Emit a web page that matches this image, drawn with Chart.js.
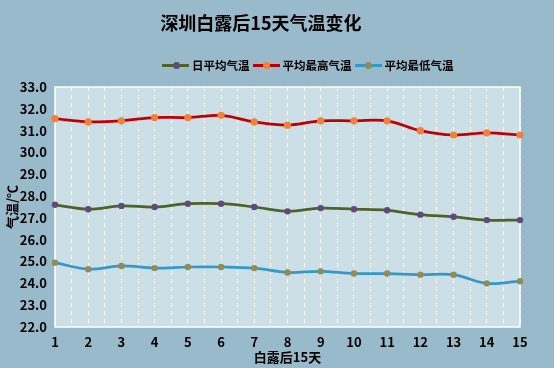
<!DOCTYPE html>
<html>
<head>
<meta charset="utf-8">
<script src="https://cdn.jsdelivr.net/npm/chart.js@4/dist/chart.umd.min.js"></script>
<style>
  body { margin: 0; background: #98bacb; }
  #wrap { position: relative; width: 554px; height: 368px; font-family: "Noto Sans CJK SC", sans-serif; color: #000; }
  #titulo { position: absolute; left: 0; top: 9px; width: 522px; text-align: center; font-size: 18px; font-weight: bold; line-height: 26px; }
  #legenda { position: absolute; left: 162px; top: 57px; display: flex; font-size: 11.5px; font-weight: bold; line-height: 16px; }
  .item { display: flex; align-items: center; margin-right: 3px; }
  .marca { position: relative; width: 27px; height: 10px; margin-right: 3px; }
  .marca .linha { position: absolute; left: 0; top: 3.5px; width: 27px; height: 3px; }
  .marca .ponto { position: absolute; left: 10.5px; top: 1.5px; width: 7px; height: 7px; border-radius: 50%; }
  canvas { position: absolute; left: 0; top: 0; }
</style>
</head>
<body>
<div id="wrap">
  <canvas id="grafico" width="554" height="368"></canvas>
  <div id="titulo">深圳白露后15天气温变化</div>
  <div id="legenda"></div>
</div>
<script>
/* DADOS */
const dias = [1, 2, 3, 4, 5, 6, 7, 8, 9, 10, 11, 12, 13, 14, 15];
const nomes = ["日平均气温", "平均最高气温", "平均最低气温"];
const mediaTemp = [27.6, 27.4, 27.55, 27.5, 27.65, 27.65, 27.5, 27.3, 27.45, 27.4, 27.35, 27.15, 27.05, 26.9, 26.9];
const maxTemp = [31.55, 31.4, 31.45, 31.6, 31.6, 31.7, 31.4, 31.25, 31.45, 31.45, 31.45, 31.0, 30.8, 30.9, 30.8];
const minTemp = [24.95, 24.65, 24.8, 24.7, 24.75, 24.75, 24.7, 24.5, 24.55, 24.45, 24.45, 24.4, 24.4, 24.0, 24.1];

/* CORES */
const corLinha = ["#4f6228", "#c00000", "#3399c9"];
const corPonto = ["#604a7b", "#f0803a", "#948a54"];
const raio = [3.2, 3.6, 3.2];

const series = [mediaTemp, maxTemp, minTemp];

/* LEGENDA HTML */
const legenda = document.getElementById("legenda");
nomes.forEach((n, i) => {
  legenda.innerHTML += `
    <div class="item">
      <span class="marca"><span class="linha" style="background:${corLinha[i]}"></span><span class="ponto" style="background:${corPonto[i]}"></span></span>
      <span>${n}</span>
    </div>`;
});

/* FUNDO + BORDA DA AREA */
const fundo = {
  id: "fundo",
  beforeDraw(chart) {
    const { ctx, chartArea: a } = chart;
    ctx.save();
    ctx.fillStyle = "#98bacb";
    ctx.fillRect(0, 0, chart.width, chart.height);
    ctx.fillStyle = "#cddfe6";
    ctx.fillRect(a.left, a.top, a.right - a.left, a.bottom - a.top);
    ctx.restore();
  },
  beforeDatasetsDraw(chart) {
    const { ctx, chartArea: a } = chart;
    ctx.save();
    ctx.strokeStyle = "#ffffff";
    ctx.lineWidth = 1.5;
    ctx.strokeRect(a.left, a.top, a.right - a.left, a.bottom - a.top);
    ctx.restore();
  }
};

Chart.defaults.font.family = '"Noto Sans CJK SC", sans-serif';
Chart.defaults.color = "#000";

new Chart(document.getElementById("grafico"), {
  type: "line",
  data: {
    datasets: series.map((s, i) => ({
      label: nomes[i],
      data: s.map((v, k) => ({ x: dias[k], y: v })),
      borderColor: corLinha[i],
      backgroundColor: corPonto[i],
      pointBackgroundColor: corPonto[i],
      pointBorderWidth: 0,
      borderWidth: 2.75,
      pointRadius: raio[i],
      tension: 0.35,
      clip: false
    }))
  },
  options: {
    responsive: false,
    animation: false,
    layout: { padding: { top: 87, right: 34, left: 0, bottom: 0 } },
    plugins: {
      legend: { display: false },
      title: { display: false },
      tooltip: { enabled: false }
    },
    scales: {
      x: {
        type: "linear",
        min: 1,
        max: 15,
        ticks: {
          stepSize: 0.5,
          maxTicksLimit: 100,
          autoSkip: false,
          maxRotation: 0,
          padding: 7,
          font: { size: 13, weight: "bold" },
          callback: v => Number.isInteger(v) ? String(v) : ""
        },
        grid: { color: "rgba(255,255,255,0.95)", lineWidth: 1, drawTicks: false },
        border: { display: false, dash: [4, 4] },
        title: { display: true, text: "白露后15天", font: { size: 13, weight: "bold" }, padding: { top: 0, bottom: 3 } },
        afterFit: s => { s.height = 41; }
      },
      y: {
        min: 22,
        max: 33,
        ticks: {
          stepSize: 1,
          maxTicksLimit: 20,
          padding: 8,
          font: { size: 13, weight: "bold" },
          callback: v => v.toFixed(1)
        },
        grid: { display: false, drawTicks: false },
        border: { display: false },
        title: { display: true, text: "气温/℃", font: { size: 13, weight: "bold" }, padding: { top: 4, bottom: 0 } },
        afterFit: s => { s.width = 55; }
      }
    }
  },
  plugins: [fundo]
});
</script>
</body>
</html>
